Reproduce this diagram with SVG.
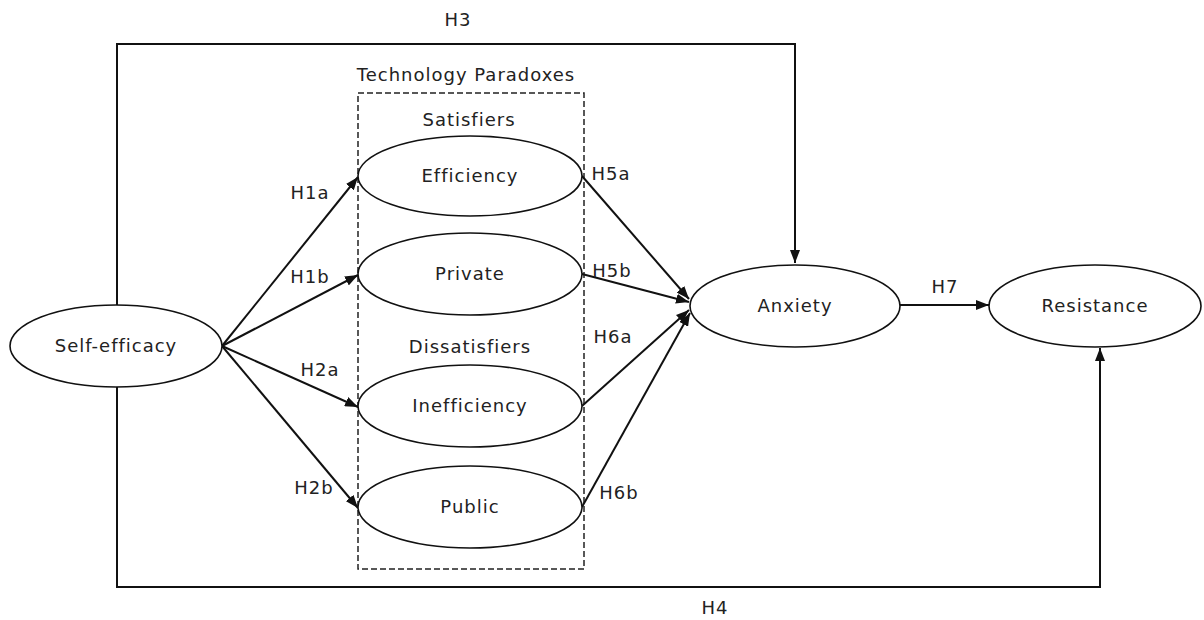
<svg xmlns="http://www.w3.org/2000/svg" width="1204" height="620" viewBox="0 0 1204 620">
<style>
text{font-family:"DejaVu Sans","Liberation Sans",sans-serif;font-size:18px;fill:#222;text-anchor:middle;letter-spacing:1px}
.node ellipse{fill:#fff;stroke:#111;stroke-width:1.6}
.conn line,.conn polyline{fill:none;stroke:#111;stroke-width:2}
.box{fill:none;stroke:#222;stroke-width:1.5;stroke-dasharray:6 3}
</style>
<defs>
<marker id="arr" markerUnits="userSpaceOnUse" markerWidth="14" markerHeight="10" refX="13" refY="5" orient="auto">
<path d="M0,0 L13,5 L0,10 z" fill="#111"/>
</marker>
</defs>
<rect width="1204" height="620" fill="#fff"/>
<g id="group-box">
<rect class="box" x="358" y="93" width="226" height="476"/>
<text x="466" y="81">Technology Paradoxes</text>
<text x="469" y="126">Satisfiers</text>
<text x="470" y="353">Dissatisfiers</text>
</g>
<g class="conn" id="connectors">
<polyline points="117,305 117,44 795,44 795,263" marker-end="url(#arr)"/>
<polyline points="117,387 117,587 1100,587 1100,348" marker-end="url(#arr)"/>
<line x1="222" y1="346" x2="358" y2="177" marker-end="url(#arr)"/>
<line x1="222" y1="346" x2="358" y2="275" marker-end="url(#arr)"/>
<line x1="222" y1="346" x2="358" y2="407" marker-end="url(#arr)"/>
<line x1="222" y1="346" x2="358" y2="508" marker-end="url(#arr)"/>
<line x1="582" y1="176" x2="689" y2="299" marker-end="url(#arr)"/>
<line x1="582" y1="274" x2="689" y2="302" marker-end="url(#arr)"/>
<line x1="582" y1="406" x2="689" y2="310" marker-end="url(#arr)"/>
<line x1="582" y1="507" x2="690" y2="313" marker-end="url(#arr)"/>
<line x1="900" y1="305" x2="989" y2="305" marker-end="url(#arr)"/>
<text x="458" y="26">H3</text>
<text x="715" y="614">H4</text>
<text x="310" y="199">H1a</text>
<text x="310" y="283">H1b</text>
<text x="320" y="376">H2a</text>
<text x="314" y="494">H2b</text>
<text x="611" y="180">H5a</text>
<text x="612" y="277">H5b</text>
<text x="613" y="343">H6a</text>
<text x="619" y="499">H6b</text>
<text x="945" y="293">H7</text>
</g>
<g class="node" id="self-efficacy"><ellipse cx="116" cy="346" rx="106" ry="41"/><text x="116" y="352">Self-efficacy</text></g>
<g class="node" id="efficiency"><ellipse cx="470" cy="176" rx="112" ry="40"/><text x="470" y="182">Efficiency</text></g>
<g class="node" id="private"><ellipse cx="470" cy="274" rx="112" ry="41"/><text x="470" y="280">Private</text></g>
<g class="node" id="inefficiency"><ellipse cx="470" cy="406" rx="112" ry="41"/><text x="470" y="412">Inefficiency</text></g>
<g class="node" id="public"><ellipse cx="470" cy="507" rx="112" ry="41"/><text x="470" y="513">Public</text></g>
<g class="node" id="anxiety"><ellipse cx="795" cy="306" rx="105" ry="41"/><text x="795" y="312">Anxiety</text></g>
<g class="node" id="resistance"><ellipse cx="1095" cy="306" rx="106" ry="41"/><text x="1095" y="312">Resistance</text></g>
</svg>
